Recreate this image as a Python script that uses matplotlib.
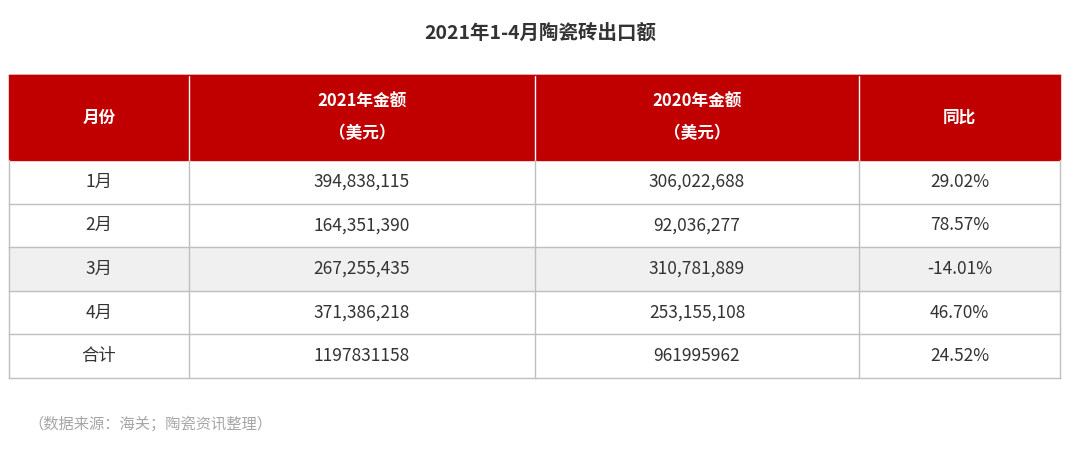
import matplotlib
matplotlib.use("Agg")
import matplotlib.pyplot as plt
from matplotlib.patches import Rectangle

title = "2021年1-4月陶瓷砖出口额"
headers = ["月份", "2021年金额\n（美元）", "2020年金额\n（美元）", "同比"]
months = ["1月", "2月", "3月", "4月", "合计"]
amount_2021 = ["394,838,115", "164,351,390", "267,255,435", "371,386,218", "1197831158"]
amount_2020 = ["306,022,688", "92,036,277", "310,781,889", "253,155,108", "961995962"]
yoy = ["29.02%", "78.57%", "-14.01%", "46.70%", "24.52%"]
source = "（数据来源：海关；陶瓷资讯整理）"

FONT = "Noto Sans CJK SC"
fig = plt.figure(figsize=(10.8, 4.49), dpi=100)
ax = fig.add_axes([0, 0, 1, 1])
ax.set_xlim(0, 1080); ax.set_ylim(449, 0); ax.axis("off")

cols = [9, 189, 535, 859, 1060]
hy0, hy1 = 75, 160
rh = 43.6
red = "#c00000"
line = "#bfbfbf"

ax.text(540, 33, title, ha="center", va="center", fontsize=14, fontweight="bold",
        color="#333333", family=FONT)

ax.add_patch(Rectangle((cols[0], hy0), cols[-1]-cols[0], hy1-hy0, color=red, zorder=1))
for i, h in enumerate(headers):
    cx = (cols[i]+cols[i+1])/2
    ax.text(cx, (hy0+hy1)/2, h, ha="center", va="center", fontsize=12, fontweight="bold",
            color="white", family=FONT, linespacing=1.9, zorder=3)
for x in cols[1:-1]:
    ax.plot([x, x], [hy0, hy1], color="white", lw=1, zorder=2)

rows = list(zip(months, amount_2021, amount_2020, yoy))
for r, vals in enumerate(rows):
    y0 = hy1 + r*rh
    if r == 2:
        ax.add_patch(Rectangle((cols[0], y0), cols[-1]-cols[0], rh, color="#f0f0f0", zorder=0))
    for i, v in enumerate(vals):
        cx = (cols[i]+cols[i+1])/2
        ax.text(cx, y0+rh/2, v, ha="center", va="center", fontsize=12.5, color="#333333",
                family=FONT, zorder=3)
    ax.plot([cols[0], cols[-1]], [y0+rh, y0+rh], color=line, lw=1, zorder=2)
yb = hy1 + len(rows)*rh
for x in cols:
    ax.plot([x, x], [hy1, yb], color=line, lw=1, zorder=2)
ax.plot([cols[0], cols[-1]], [hy0, hy0], color=red, lw=1)

ax.text(28, 424, source, ha="left", va="center", fontsize=11, color="#a6a6a6", family=FONT)
fig.savefig("out.png", dpi=100)
